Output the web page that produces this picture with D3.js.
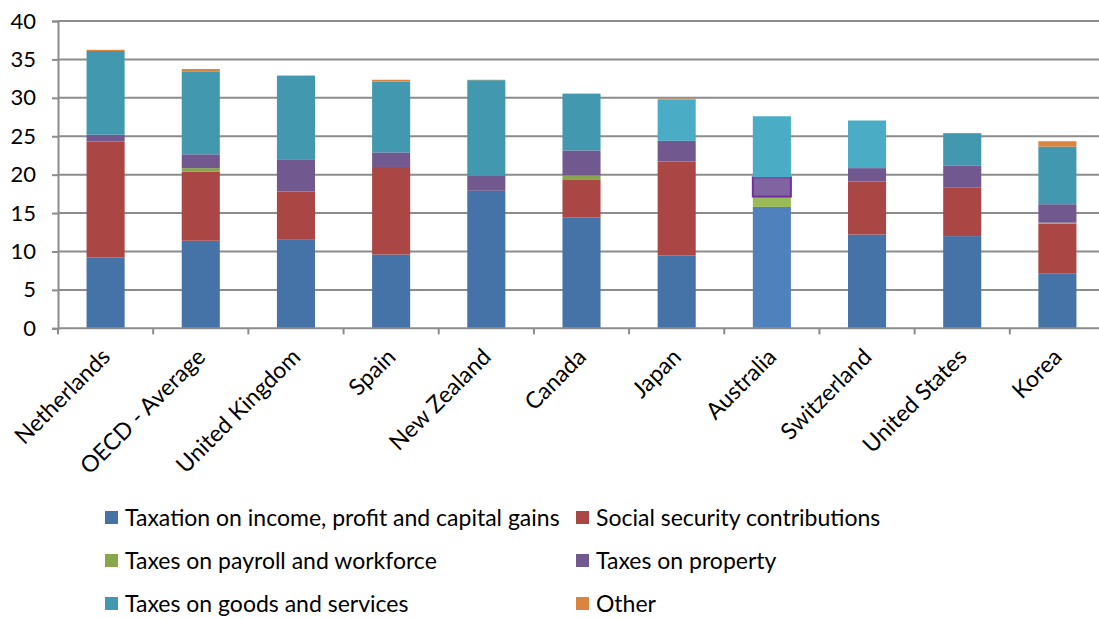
<!DOCTYPE html>
<html>
<head>
<meta charset="utf-8">
<script src="https://cdn.jsdelivr.net/npm/d3@7"></script>
<style>
  html, body { margin: 0; padding: 0; background: #fff; }
  svg { display: block; font-family: Lato, "Open Sans", sans-serif; }
</style>
</head>
<body>
<svg id="chart" width="1099" height="618"></svg>
<script>
// Tax revenue by type, % of GDP
const categories = ["Netherlands", "OECD - Average", "United Kingdom", "Spain", "New Zealand",
  "Canada", "Japan", "Australia", "Switzerland", "United States", "Korea"];
const income   = [9.2, 11.4, 11.6, 9.6, 17.9, 14.4, 9.5, 15.8, 12.2, 12.0, 7.1];
const social   = [15.1, 9.0, 6.2, 11.4, 0, 4.9, 12.2, 0, 6.9, 6.3, 6.5];
const payroll  = [0, 0.45, 0, 0, 0, 0.6, 0, 1.35, 0, 0, 0.15];
const property = [0.9, 1.8, 4.2, 1.9, 2.0, 3.25, 2.7, 2.5, 1.75, 2.85, 2.4];
const goods    = [10.9, 10.8, 10.9, 9.2, 12.4, 7.4, 5.4, 7.95, 6.2, 4.25, 7.5];
const other    = [0.15, 0.3, 0, 0.25, 0.05, 0, 0.1, 0, 0, 0, 0.7];
const seriesNames = ["Taxation on income, profit and capital gains", "Social security contributions",
  "Taxes on payroll and workforce", "Taxes on property", "Taxes on goods and services", "Other"];
const yTicks = [0, 5, 10, 15, 20, 25, 30, 35, 40];

const keys = ["income", "social", "payroll", "property", "goods", "other"];
const colors = ["#4572A7", "#AA4643", "#89A54E", "#71588F", "#4198AF", "#DB843D"];
const lightColors = { income: "#4F81BD", payroll: "#9BBB59", property: "#8064A2", goods: "#4BACC6" };
// bars drawn with the lighter palette for individual segments
const lightSegments = {
  "Australia": ["income", "payroll", "property", "goods"],
  "Japan": ["goods"],
  "Switzerland": ["goods"]
};

const rows = categories.map((c, i) => ({
  country: c, income: income[i], social: social[i], payroll: payroll[i],
  property: property[i], goods: goods[i], other: other[i]
}));

const svg = d3.select("#chart");
const margin = { left: 58, top: 21 };
const plotRight = 1105;
const y0 = 328.3;

const x = d3.scaleBand().domain(categories).range([margin.left, plotRight]).paddingInner(0.6).paddingOuter(0.3);
const xEdge = d3.scaleBand().domain(categories).range([margin.left, plotRight]);
const y = d3.scaleLinear().domain([0, 40]).range([y0, margin.top]);

// gridlines
svg.append("g").selectAll("line").data(yTicks.filter(d => d > 0)).join("line")
  .attr("x1", margin.left).attr("x2", 1099)
  .attr("y1", d => y(d)).attr("y2", d => y(d))
  .attr("stroke", "#8c8c8c").attr("stroke-width", 2);

// y axis
const yAxis = svg.append("g").attr("transform", `translate(${margin.left},0)`)
  .call(d3.axisLeft(y).tickValues(yTicks).tickSize(6).tickPadding(16));
yAxis.select(".domain").attr("stroke", "#8c8c8c").attr("stroke-width", 2);
yAxis.selectAll(".tick line").attr("stroke", "#8c8c8c").attr("stroke-width", 2);
yAxis.selectAll(".tick text").attr("font-size", 22).attr("fill", "#000").attr("font-family", "Lato, sans-serif");

// stacked bars
const stack = d3.stack().keys(keys)(rows);
svg.append("g").selectAll("g").data(stack).join("g")
  .each(function (layer, li) {
    const key = keys[li];
    d3.select(this).selectAll("rect").data(layer).join("rect")
      .attr("x", d => x(d.data.country))
      .attr("width", x.bandwidth())
      .attr("y", d => y(d[1]))
      .attr("height", d => Math.max(0, y(d[0]) - y(d[1])))
      .attr("fill", d => {
        const l = lightSegments[d.data.country];
        return l && l.includes(key) ? lightColors[key] : colors[li];
      })
      .attr("stroke", d => (d.data.country === "Australia" && key === "property") ? "#7030A0" : "none")
      .attr("stroke-width", 2);
  });

// x axis baseline and category ticks
svg.append("line").attr("x1", margin.left).attr("x2", 1099).attr("y1", y0).attr("y2", y0)
  .attr("stroke", "#8c8c8c").attr("stroke-width", 2);
svg.append("g").selectAll("line").data(categories).join("line")
  .attr("x1", d => xEdge(d)).attr("x2", d => xEdge(d))
  .attr("y1", y0).attr("y2", y0 + 6)
  .attr("stroke", "#8c8c8c").attr("stroke-width", 2);

// rotated category labels
svg.append("g").selectAll("text").data(categories).join("text")
  .attr("transform", d => `translate(${x(d) + x.bandwidth() / 2 + 6},${y0 + 30}) rotate(-45)`)
  .attr("text-anchor", "end")
  .attr("font-size", 23)
  .attr("fill", "#000")
  .text(d => d);

// legend
const legendItems = seriesNames.map((n, i) => ({ name: n, color: colors[i], col: i % 2, row: Math.floor(i / 2) }));
const legend = svg.append("g").selectAll("g").data(legendItems).join("g")
  .attr("transform", d => `translate(${d.col === 0 ? 105 : 576},${518 + d.row * 43})`);
legend.append("rect").attr("x", 0).attr("y", -7).attr("width", 13).attr("height", 13).attr("fill", d => d.color);
legend.append("text").attr("x", 20).attr("y", 0).attr("dy", "0.35em")
  .attr("font-size", 23).attr("fill", "#000").text(d => d.name);
</script>
</body>
</html>
